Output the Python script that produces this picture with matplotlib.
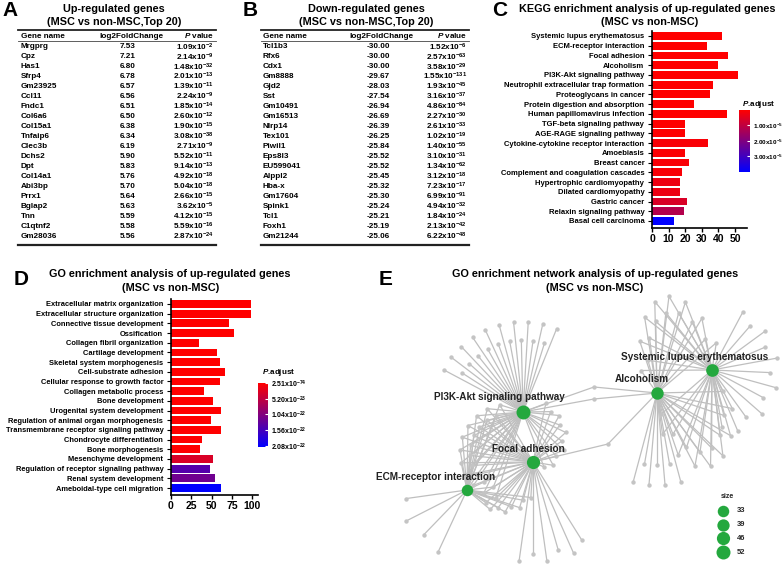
import matplotlib
matplotlib.use("Agg")
import matplotlib.pyplot as plt
import numpy as np
from matplotlib.colors import LinearSegmentedColormap, Normalize
from matplotlib.cm import ScalarMappable

plt.rcParams['font.family'] = ['Liberation Sans', 'DejaVu Sans']
plt.rcParams['font.weight'] = 'bold'
plt.rcParams['mathtext.fontset'] = 'custom'
plt.rcParams['mathtext.rm'] = 'Liberation Sans:bold'
plt.rcParams['mathtext.it'] = 'Liberation Sans:italic:bold'
plt.rcParams['mathtext.bf'] = 'Liberation Sans:bold'

# ---- table A: up-regulated genes
up_genes = ['Mrgprg', 'Cpz', 'Has1', 'Sfrp4', 'Gm23925', 'Ccl11', 'Fndc1', 'Col6a6', 'Col15a1', 'Tnfaip6',
            'Clec3b', 'Dchs2', 'Dpt', 'Col14a1', 'Abi3bp', 'Prrx1', 'Bglap2', 'Tnn', 'C1qtnf2', 'Gm28036']
up_fc = [7.53, 7.21, 6.80, 6.78, 6.57, 6.56, 6.51, 6.50, 6.38, 6.34,
         6.19, 5.90, 5.83, 5.76, 5.70, 5.64, 5.63, 5.59, 5.58, 5.56]
up_p_mant = [1.09, 2.14, 1.48, 2.01, 1.39, 2.24, 1.85, 2.60, 1.90, 3.08,
             2.71, 5.52, 9.14, 4.92, 5.04, 2.66, 3.62, 4.12, 5.59, 2.87]
up_p_exp = [-2, -9, -32, -13, -11, -9, -14, -12, -15, -38,
            -9, -11, -13, -18, -18, -15, -5, -15, -16, -24]

# ---- table B: down-regulated genes
down_genes = ['Tcl1b3', 'Rfx6', 'Cdx1', 'Gm8888', 'Gjd2', 'Sst', 'Gm10491', 'Gm16513', 'Nlrp14', 'Tex101',
              'Piwil1', 'Eps8l3', 'EU599041', 'Alppl2', 'Hba-x', 'Gm17604', 'Spink1', 'Tcl1', 'Foxh1', 'Gm21244']
down_fc = [-30.00, -30.00, -30.00, -29.67, -28.03, -27.54, -26.94, -26.69, -26.39, -26.25,
           -25.84, -25.52, -25.52, -25.45, -25.32, -25.30, -25.24, -25.21, -25.19, -25.06]
down_p_mant = [1.52, 2.57, 3.58, 1.55, 1.93, 3.16, 4.86, 2.27, 2.61, 1.02,
               1.40, 3.10, 1.34, 3.12, 7.23, 6.99, 4.94, 1.84, 2.13, 6.22]
down_p_exp = [-6, -63, -29, -131, -45, -37, -84, -30, -33, -19,
              -55, -31, -62, -18, -17, -91, -32, -24, -42, -48]

# ---- panel C: KEGG
kegg_terms = ['Systemic lupus erythematosus', 'ECM-receptor interaction', 'Focal adhesion', 'Alcoholism',
              'PI3K-Akt signaling pathway', 'Neutrophil extracellular trap formation', 'Proteoglycans in cancer',
              'Protein digestion and absorption', 'Human papillomavirus infection', 'TGF-beta signaling pathway',
              'AGE-RAGE signaling pathway', 'Cytokine-cytokine receptor interaction', 'Amoebiasis', 'Breast cancer',
              'Complement and coagulation cascades', 'Hypertrophic cardiomyopathy', 'Dilated cardiomyopathy',
              'Gastric cancer', 'Relaxin signaling pathway', 'Basal cell carcinoma']
kegg_count = [42, 33, 46, 40, 52, 37, 35, 25, 45, 20, 20, 34, 20, 22, 18, 17, 17, 21, 19, 13]
kegg_padj = [1e-12, 1e-11, 1e-13, 1e-12, 1e-14, 1e-11, 1e-9, 1e-8, 1e-7, 1e-7,
             1e-7, 1e-6, 5e-7, 1e-6, 1e-6, 2.8e-6, 2.9e-6, 6e-6, 1.2e-5, 4.0e-5]
kegg_cbar_ticks = [1e-5, 2e-5, 3e-5]
kegg_cbar_labels = [r'1.00x10$^{-5}$', r'2.00x10$^{-5}$', r'3.00x10$^{-5}$']

# ---- panel D: GO
go_terms = ['Extracellular matrix organization', 'Extracellular structure organization',
            'Connective tissue development', 'Ossification', 'Collagen fibril organization',
            'Cartilage development', 'Skeletal system morphogenesis', 'Cell-substrate adhesion',
            'Cellular response to growth factor', 'Collagen metabolic process', 'Bone development',
            'Urogenital system development', 'Regulation of animal organ morphogenesis',
            'Transmembrane receptor signaling pathway', 'Chondrocyte differentiation', 'Bone morphogenesis',
            'Mesenchyme development', 'Regulation of receptor signaling pathway', 'Renal system development',
            'Ameboidal-type cell migration']
go_count = [99, 99, 71, 77, 35, 57, 60, 67, 60, 40, 52, 62, 49, 61, 38, 36, 52, 48, 54, 61]
go_padj = [2.51e-74, 2.51e-74, 1e-40, 1e-38, 1e-35, 1e-33, 1e-31, 1e-30, 1e-29, 1e-28,
           1e-27, 1e-26, 1e-25, 1e-25, 1e-24, 1e-24, 3.2e-23, 1.42e-22, 1.2e-22, 2.12e-22]
go_cbar_ticks = [2.51e-74, 5.20e-23, 1.04e-22, 1.56e-22, 2.08e-22]
go_cbar_labels = [r'2.51x10$^{-74}$', r'5.20x10$^{-23}$', r'1.04x10$^{-22}$',
                  r'1.56x10$^{-22}$', r'2.08x10$^{-22}$']

# ---- panel E: network (genes grouped by the pathways they belong to)
hub_names = {'PI3K': 'PI3K-Akt signaling pathway', 'Focal': 'Focal adhesion',
             'ECM': 'ECM-receptor interaction', 'Alc': 'Alcoholism', 'SLE': 'Systemic lupus erythematosus'}
hub_size = {'PI3K': 52, 'Focal': 46, 'ECM': 33, 'Alc': 40, 'SLE': 42}
gene_groups = [(('PI3K',), 19), (('PI3K', 'Focal'), 10), (('PI3K', 'Focal', 'ECM'), 21),
               (('Focal', 'ECM'), 8), (('Focal',), 6), (('ECM',), 4), (('PI3K', 'Alc'), 2),
               (('Focal', 'Alc'), 1), (('Alc', 'SLE'), 30), (('Alc',), 7), (('SLE',), 12)]
size_breaks = [33, 39, 46, 52]

# layout (pixel space of the figure)
hub_pos = {'PI3K': (523, 412), 'Focal': (533, 462), 'ECM': (467, 490), 'Alc': (657, 393), 'SLE': (712, 370)}
label_off = {'PI3K': (-24, -15), 'Focal': (-5, -13), 'ECM': (-31, -13), 'Alc': (-15, -14), 'SLE': (-17, -13)}
group_layout = [('fan', 523, 412, [90, 72], 68, 152), ('fan', 528, 437, [38, 34], 62, -62),
                ('fan', 508, 452, [48, 38], 100, 255), ('fan', 503, 478, [34, 30], -35, -125),
                ('fan', 533, 462, [100, 92], -98, -58), ('fan', 467, 490, [62, 68], 188, 245),
                ('fan', 594, 393, [6], 90, 270), ('fan', 608, 444, [0], 0, 0),
                ('ellipse', 686, 382, 42, 88, 15), ('fan', 657, 393, [92, 72], -75, -105),
                ('fan', 712, 370, [66, 58], 62, -80)]

cmap = LinearSegmentedColormap.from_list('padj', ['#ff0000', '#0000ff'])

fig = plt.figure(figsize=(7.84, 5.65), dpi=100)
canvas = fig.add_axes([0, 0, 1, 1])
canvas.set_xlim(0, 784)
canvas.set_ylim(565, 0)
canvas.axis('off')

TITLE = 7.8


def draw_table(letter, lx, title, tcx, x0, x1, xg, xfc, xp, genes, fc, pm, pe):
    canvas.text(lx, 1, letter, fontsize=15, va='top', ha='left')
    canvas.text(tcx, 9, title, fontsize=TITLE, ha='center', va='center')
    canvas.text(tcx, 22, '(MSC vs non-MSC,Top 20)', fontsize=TITLE, ha='center', va='center')
    canvas.plot([x0, x1], [30, 30], color='#222222', lw=1.3)
    canvas.text(xg, 36, 'Gene name', fontsize=5.9, va='center', ha='left')
    canvas.text(xfc + 3, 36, 'log2FoldChange', fontsize=5.9, va='center', ha='center')
    canvas.text(xp, 36, r'$\mathit{P}$ value', fontsize=5.9, va='center', ha='right')
    canvas.plot([x0, x1], [41, 41], color='#444444', lw=0.6)
    for i in range(len(genes)):
        y = 47 + i * 9.95
        canvas.text(xg, y, genes[i], fontsize=5.9, va='center', ha='left')
        canvas.text(xfc, y, f'{fc[i]:.2f}', fontsize=5.9, va='center', ha='center')
        canvas.text(xp, y, f'{pm[i]:.2f}x10$^{{{pe[i]}}}$', fontsize=5.9, va='center', ha='right')
    canvas.plot([x0, x1], [245, 245], color='#222222', lw=1.6)


draw_table('A', 2, 'Up-regulated genes', 114, 18, 216, 21, 128, 214,
           up_genes, up_fc, up_p_mant, up_p_exp)
draw_table('B', 243, 'Down-regulated genes', 366, 261, 469, 263, 378, 467,
           down_genes, down_fc, down_p_mant, down_p_exp)


def bar_panel(rect, terms, counts, padj, norm, xmax, xticks, label_size, tick_size):
    ax = fig.add_axes(rect)
    ax.patch.set_visible(False)
    y = np.arange(len(terms))
    ax.barh(y, counts, height=0.8, color=cmap(norm(np.array(padj))))
    ax.set_ylim(len(terms) - 0.28, -0.51)
    ax.set_xlim(0, xmax)
    ax.set_yticks(y)
    ax.set_yticklabels(terms, fontsize=label_size)
    ax.set_xticks(xticks)
    ax.tick_params(axis='x', labelsize=tick_size, length=3, width=1, pad=1.5)
    ax.tick_params(axis='y', length=3, width=0.8, pad=2.5)
    for s in ['top', 'right']:
        ax.spines[s].set_visible(False)
    for s in ['left', 'bottom']:
        ax.spines[s].set_linewidth(1.2)
    return ax


def colorbar(rect, norm, ticks, labels, lab_x, lab_y, size):
    cax = fig.add_axes(rect)
    cb = fig.colorbar(ScalarMappable(norm=norm, cmap=cmap), cax=cax)
    cb.outline.set_visible(False)
    cb.set_ticks(ticks)
    cb.set_ticklabels(labels)
    cax.tick_params(labelsize=size, length=2, color='white', direction='in', pad=2)
    cax.invert_yaxis()
    canvas.text(lab_x, lab_y, r'$\mathit{P}$.adjust', fontsize=5.8, ha='left', va='center')


# C
canvas.text(492, 1, 'C', fontsize=15, va='top', ha='left')
canvas.text(647, 9, 'KEGG enrichment analysis of up-regulated genes', fontsize=TITLE, ha='center', va='center')
canvas.text(650, 22, '(MSC vs non-MSC)', fontsize=TITLE, ha='center', va='center')
kegg_norm = Normalize(0, 4.0e-5)
bar_panel([652 / 784, 1 - 228 / 565, 95 / 784, 197 / 565], kegg_terms, kegg_count, kegg_padj,
          kegg_norm, 57.2, [0, 10, 20, 30, 40, 50], 5.5, 7.5)
colorbar([739 / 784, 1 - 172 / 565, 11 / 784, 62 / 565], kegg_norm, kegg_cbar_ticks, kegg_cbar_labels,
         742, 104, 4.6)

# D
canvas.text(14, 270, 'D', fontsize=15, va='top', ha='left')
canvas.text(170, 274, 'GO enrichment analysis of up-regulated genes', fontsize=TITLE, ha='center', va='center')
canvas.text(171, 288, '(MSC vs non-MSC)', fontsize=TITLE, ha='center', va='center')
go_norm = Normalize(0, 2.12e-22)
bar_panel([171 / 784, 1 - 495 / 565, 87 / 784, 196 / 565], go_terms, go_count, go_padj,
          go_norm, 107, [0, 25, 50, 75, 100], 5.4, 7.5)
colorbar([258 / 784, 1 - 447 / 565, 10 / 784, 64 / 565], go_norm, go_cbar_ticks, go_cbar_labels,
         262, 373, 5)

# E
canvas.text(379, 270, 'E', fontsize=15, va='top', ha='left')
canvas.text(595, 274, 'GO enrichment network analysis of up-regulated genes', fontsize=TITLE,
            ha='center', va='center')
canvas.text(595, 288, '(MSC vs non-MSC)', fontsize=TITLE, ha='center', va='center')


def group_positions(lay, n):
    if lay[0] == 'fan':
        _, cx, cy, radii, a0, a1 = lay
        ang = np.radians(np.linspace(a0, a1, n))
        r = np.array([radii[i % len(radii)] for i in range(n)])
        return cx + r * np.cos(ang), cy - r * np.sin(ang)
    _, cx, cy, a, b, rot = lay
    half = n // 2
    t = np.radians(np.concatenate([np.linspace(20, 165, half), np.linspace(200, 345, n - half)]))
    sc = np.array([1.0 if i % 2 == 0 else 0.82 for i in range(n)])
    dx = a * sc * np.cos(t)
    dy = -b * sc * np.sin(t)
    ph = np.radians(rot)
    return cx + dx * np.cos(ph) + dy * np.sin(ph), cy - dx * np.sin(ph) + dy * np.cos(ph)


edge_col = '#bfbfbf'
gx_all, gy_all = [], []
for (members, n), lay in zip(gene_groups, group_layout):
    gx, gy = group_positions(lay, n)
    for x, y in zip(gx, gy):
        for h in members:
            hx, hy = hub_pos[h]
            canvas.plot([x, hx], [y, hy], color=edge_col, lw=0.9, zorder=1, solid_capstyle='round')
    gx_all.extend(gx)
    gy_all.extend(gy)
canvas.scatter(gx_all, gy_all, s=10, color='#c4c4c4', zorder=2, linewidths=0)


def hub_area(n):
    d = 11.5 + (n - 33) * 2.5 / 19
    return (d * 0.72) ** 2


green = '#24a83e'
for h, (hx, hy) in hub_pos.items():
    canvas.scatter([hx], [hy], s=hub_area(hub_size[h]), color=green, zorder=3, linewidths=0)
    ox, oy = label_off[h]
    canvas.text(hx + ox, hy + oy, hub_names[h], fontsize=7.2, color='#222222', ha='center', va='center', zorder=4)

# size legend
canvas.text(727, 497, 'size', fontsize=5, ha='center', va='center', color='#262626')
for i, b in enumerate(size_breaks):
    yy = 511 + i * 13.7
    canvas.scatter([723], [yy], s=hub_area(b), color=green, zorder=3, linewidths=0)
    canvas.text(737, yy, str(b), fontsize=5.4, ha='left', va='center', color='#262626')

fig.savefig('out.png', dpi=100)
